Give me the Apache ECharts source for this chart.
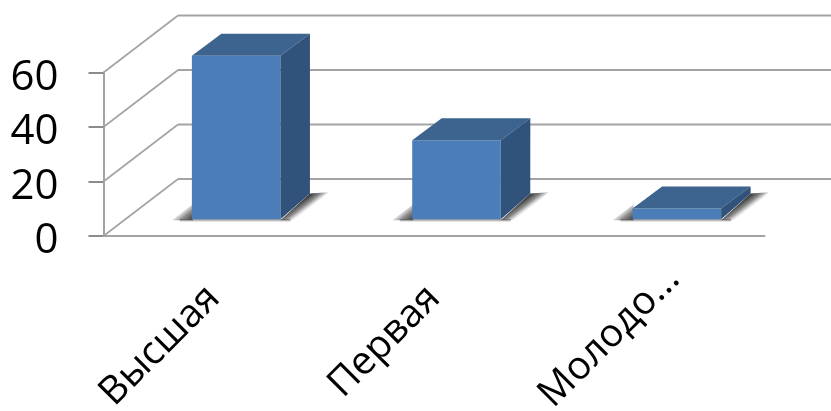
<!DOCTYPE html>
<html><head><meta charset="utf-8">
<style>html,body{margin:0;padding:0;background:#fff}#c{width:831px;height:411px}</style>
<script src="https://cdn.jsdelivr.net/npm/echarts@6/dist/echarts.min.js"></script>
</head><body><div id="c"></div>
<script>
const categories = ['Высшая', 'Первая', 'Молодо...'];
const labelNudge = [0, 0, -27];
const values = [60, 29, 4];
const yTicks = [0, 20, 40, 60];
const FONT = 'Open Sans';
const WALL_DX = 74.5, WALL_DY = 57;
const BAR_SHIFT_X = 22.5, BAR_SHIFT_Y = 16.7, BAR_DX = 29.5, BAR_DY_TOP = 22, BAR_DY_BOT = 25.7, BAR_RATIO = 0.402;
const GRID = '#a3a3a3';

const chart = echarts.init(document.getElementById('c'), null, {renderer: 'canvas'});

function poly(points, fill, extra) {
  return {type: 'polygon', shape: {points}, style: Object.assign({fill}, extra || {}), silent: true};
}
function grad(x, y, x2, y2, stops) {
  return {type: 'linear', global: true, x, y, x2, y2,
    colorStops: stops.map((color, k) => ({offset: k / (stops.length - 1), color}))};
}
function renderWall(params, api) {
  const v = api.value(0);
  const cs = params.coordSys;
  const y = api.coord([0, v])[1];
  const x0 = cs.x, x1 = cs.x + WALL_DX;
  const line = (a, b, c, d, w) => ({type: 'line', shape: {x1: a, y1: b, x2: c, y2: d}, style: {stroke: GRID, lineWidth: w}, silent: true});
  return {type: 'group', children: [
    line(x0, y, x1, y - WALL_DY, 1.6),
    line(x1, y - WALL_DY, x1 + cs.width, y - WALL_DY, 2)
  ]};
}
function renderBar(params, api) {
  const i = api.value(0), v = api.value(1);
  const c = api.coord([i, v]), b = api.coord([i, 0]);
  const w = api.size([1, 0])[0] * BAR_RATIO;
  const l = c[0] + BAR_SHIFT_X - w / 2, r = l + w;
  const top = c[1] - BAR_SHIFT_Y, bot = b[1] - BAR_SHIFT_Y;
  const dx = BAR_DX;
  const dark = 'rgba(55,55,55,0.95)', mid = 'rgba(70,70,70,0.6)', clear = 'rgba(120,120,120,0)';
  return {type: 'group', children: [
    poly([[l - 20, bot + 1], [l + 1, bot + 1], [l + 1, bot - 15]], grad(l - 10, bot - 10, l - 1, bot + 1, [clear, mid, dark])),
    poly([[r, bot + 1], [r + dx, bot - BAR_DY_BOT], [r + 48, bot - 27], [r + 16, bot + 1]],
      grad(r + 15, bot - 13, r + 21, bot - 5, [dark, mid, clear])),
    poly([[l - 12, bot], [r + 10, bot], [r + 10, bot + 3], [l - 12, bot + 3]], grad(0, bot, 0, bot + 3, ['rgba(90,90,90,0.8)', 'rgba(150,150,150,0)'])),
    poly([[l, bot], [r, bot], [r, top], [l, top]], '#4b7eb9'),
    poly([[l, top], [r, top], [r + dx, top - BAR_DY_TOP], [l + dx, top - BAR_DY_TOP]], '#3d638f'),
    poly([[r, top], [r + dx, top - BAR_DY_TOP], [r + dx, bot - BAR_DY_BOT], [r, bot]], '#31527a')
  ]};
}

chart.setOption({
  animation: false,
  backgroundColor: '#fff',
  tooltip: {show: false},
  grid: {left: 103.5, width: 661, top: 72.5, height: 163.5, containLabel: false, outerBoundsMode: 'none'},
  xAxis: {
    type: 'category',
    data: categories.map((value, i) => ({value, textStyle: {padding: [0, labelNudge[i], 0, 0]}})),
    axisLine: {lineStyle: {color: GRID, width: 2}},
    axisTick: {show: false},
    axisLabel: {rotate: 45, margin: 56, color: '#000', fontSize: 39, fontFamily: FONT, interval: 0, hideOverlap: false}
  },
  yAxis: {
    type: 'value', min: 0, max: 60, interval: 20,
    axisLine: {show: true, lineStyle: {color: GRID, width: 2}},
    axisTick: {show: true, length: 15, lineStyle: {color: '#8c8c8c', width: 2}},
    axisLabel: {margin: 45, color: '#000', fontSize: 42, fontFamily: FONT, verticalAlign: 'top', lineHeight: 11},
    splitLine: {show: false}
  },
  series: [
    {type: 'custom', name: 'walls', renderItem: renderWall, data: yTicks.map(v => [v]), encode: {y: 0}, silent: true, z: 1, clip: false},
    {type: 'custom', name: 'bars', renderItem: renderBar, data: values.map((v, i) => [i, v]), encode: {x: 0, y: 1}, silent: true, z: 2, clip: false}
  ]
});
</script></body></html>
